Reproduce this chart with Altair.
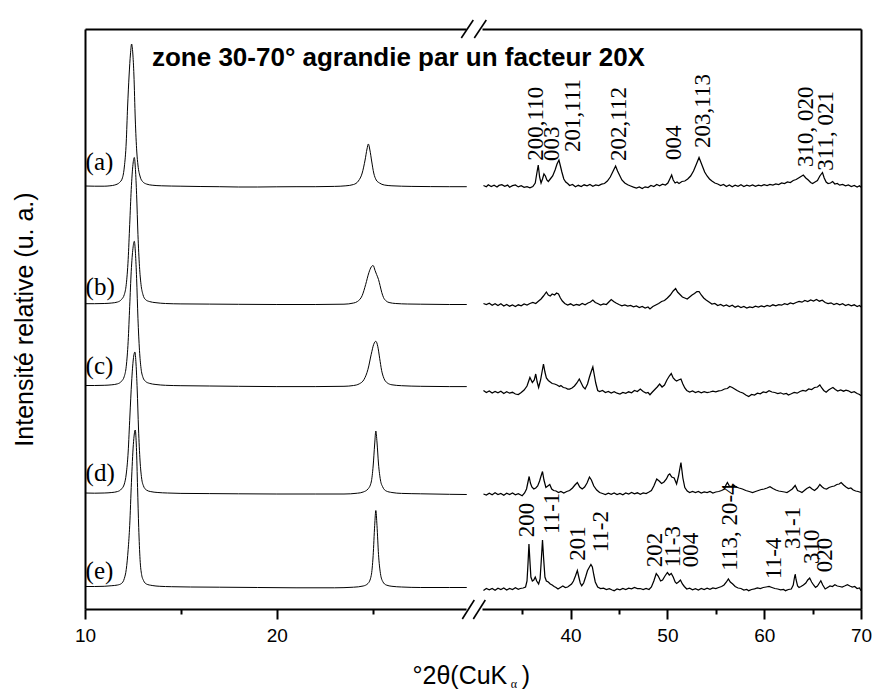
import altair as alt
import pandas as pd

# ------------------------------------------------------------------ data
samples = ["(a)", "(b)", "(c)", "(d)", "(e)"]

# vertical offsets of each pattern (arbitrary units) in the two zones
left_baseline = [422.0, 304.5, 222.7, 115.0, 21.5]
right_baseline = [423.0, 305.0, 217.0, 115.0, 20.0]

# zone 10-30° : (2theta, relative intensity)
left_a = [(10.0, 1.0), (10.5, 0.8), (11.0, 0.8), (11.3, 1.2), (11.55, 2), (11.8, 4.5), (11.95, 9),
          (12.05, 20), (12.15, 45), (12.22, 80), (12.3, 112), (12.37, 133), (12.43, 143), (12.49, 134),
          (12.55, 112), (12.62, 68), (12.7, 35), (12.76, 22), (12.88, 10), (13.0, 5.5), (13.2, 3),
          (13.5, 1.8), (14.0, 1.2), (15.0, 0.8), (16.0, 0.5), (17.0, 0.3), (18.0, 0), (19.0, 0),
          (20.0, 0.2), (21.0, 0.3), (22.0, 0.3), (23.0, 0.6), (23.6, 1.2), (24.0, 2.5), (24.25, 6),
          (24.45, 14), (24.6, 27), (24.7, 38), (24.77, 43), (24.85, 37), (24.95, 25), (25.05, 14),
          (25.18, 7), (25.35, 4), (25.6, 2), (26.0, 1.2), (27.0, 0.6), (28.0, 0.4), (29.0, 0.3),
          (29.9, 0.3)]
left_b = [(10.0, 0.8), (10.5, 0.8), (11.0, 1.0), (11.4, 1.5), (11.7, 2.5), (11.9, 5), (12.05, 10),
          (12.15, 20), (12.25, 45), (12.33, 80), (12.41, 115), (12.5, 140), (12.57, 147), (12.63, 135),
          (12.69, 110), (12.76, 70), (12.84, 38), (12.92, 20), (13.02, 10), (13.15, 5), (13.35, 3),
          (13.7, 1.8), (14.2, 1.0), (15.0, 0.6), (16.5, 0.4), (18.0, 0.2), (20.0, 0), (22.0, 0),
          (23.5, 0.3), (24.0, 1.5), (24.2, 3), (24.45, 9), (24.63, 20), (24.8, 32), (24.92, 37.5),
          (25.02, 39), (25.12, 34), (25.2, 30), (25.3, 25), (25.38, 19), (25.47, 12), (25.56, 7),
          (25.7, 3.5), (25.85, 2), (26.2, 1), (26.8, 0.5), (27.5, 0.3), (29.0, 0), (29.9, 0)]
left_c = [(10.0, 0.8), (10.5, 0.8), (11.0, 1.0), (11.4, 1.5), (11.7, 2.5), (11.9, 5), (12.05, 10),
          (12.15, 20), (12.25, 45), (12.33, 80), (12.41, 115), (12.5, 138), (12.57, 145), (12.63, 133),
          (12.69, 108), (12.76, 68), (12.84, 36), (12.92, 18), (13.02, 9), (13.15, 5), (13.35, 3),
          (13.7, 1.8), (14.2, 1.0), (15.0, 0.6), (16.5, 0.3), (18.0, 0), (20.0, -0.3), (22.0, -0.3),
          (23.5, 0), (24.0, 0.8), (24.3, 2.5), (24.55, 7), (24.75, 17), (24.92, 32), (25.05, 42),
          (25.16, 45), (25.26, 40), (25.36, 28), (25.46, 16), (25.58, 8), (25.75, 3.5), (26.0, 1.5),
          (26.5, 0.6), (27.5, 0), (29.0, -0.3), (29.9, -0.3)]
left_d = [(10.0, 1.0), (10.5, 0.8), (11.0, 1.0), (11.4, 1.5), (11.7, 2.5), (11.9, 5), (12.05, 10),
          (12.15, 20), (12.25, 42), (12.34, 78), (12.43, 112), (12.52, 135), (12.6, 142), (12.66, 130),
          (12.72, 105), (12.79, 65), (12.87, 33), (12.95, 16), (13.05, 8), (13.2, 4), (13.4, 2.5),
          (13.8, 1.5), (14.3, 1.0), (15.0, 0.6), (16.5, 0.4), (18.0, 0.2), (20.0, 0), (22.0, 0),
          (23.5, 0), (24.2, 0.8), (24.5, 2), (24.75, 5), (24.92, 12), (25.02, 28), (25.1, 50),
          (25.16, 63), (25.22, 52), (25.3, 30), (25.4, 14), (25.52, 7), (25.7, 3), (26.0, 1.5),
          (26.5, 0.6), (27.5, 0.2), (29.0, -0.3), (29.9, -0.5)]
left_e = [(10.0, 1.0), (10.5, 1.0), (11.0, 1.2), (11.4, 1.8), (11.7, 2.5), (11.9, 4), (12.05, 9),
          (12.15, 18), (12.25, 38), (12.33, 62), (12.42, 105), (12.52, 143), (12.62, 157.5), (12.68, 140),
          (12.74, 100), (12.8, 60), (12.87, 28), (12.95, 13), (13.05, 7), (13.2, 3.5), (13.5, 2),
          (13.9, 1.2), (14.5, 0.8), (15.5, 0.5), (17.0, 0.3), (19.0, 0), (21.0, -0.3), (23.0, -0.3),
          (24.0, 0.3), (24.5, 1.5), (24.75, 4), (24.92, 12), (25.02, 32), (25.1, 62), (25.16, 77),
          (25.22, 62), (25.3, 33), (25.4, 14), (25.52, 6), (25.7, 2.5), (26.0, 1.2), (26.5, 0.5),
          (27.5, 0), (29.0, 0), (29.9, 0)]

# zone 30-70° (x20) : (2theta, relative intensity)
right_a = [(31.0, 0.5), (31.3, -0.8), (31.5, 1.2), (31.8, -0.5), (32.1, 0.8), (32.4, -1.0), (32.6, 0.6),
           (32.9, 1.4), (33.2, -0.4), (33.5, 0.9), (33.7, -1.2), (34.0, 0.3), (34.3, 1.1), (34.6, -0.9),
           (34.9, 0.4), (35.2, -1.3), (35.5, -0.6), (35.8, -1.8), (36.1, -0.5), (36.35, 3), (36.5, 12),
           (36.66, 21), (36.8, 9), (36.95, 3), (37.1, 7), (37.25, 12), (37.4, 10), (37.55, 6), (37.7, 4.5),
           (37.9, 7), (38.15, 10), (38.4, 16), (38.6, 22), (38.8, 26), (38.95, 20), (39.1, 14), (39.3, 7),
           (39.5, 4), (39.7, 2.5), (39.9, 0.5), (40.2, 1.5), (40.5, -0.8), (40.8, 0.7), (41.1, -0.5),
           (41.4, 1.2), (41.7, 0.2), (42.0, 1.5), (42.3, -0.3), (42.6, 1.0), (42.9, 0.5), (43.2, 1.8),
           (43.5, 2.5), (43.8, 5), (44.1, 9), (44.4, 15), (44.65, 20), (44.85, 15), (45.05, 11), (45.3, 6),
           (45.6, 3), (45.9, 1.2), (46.2, 0), (46.5, -1.2), (46.8, -2), (47.1, -1), (47.4, -2.5),
           (47.7, -0.8), (48.0, -1.5), (48.3, 0.5), (48.6, -0.5), (48.9, 1.5), (49.2, 0.2), (49.5, 1.8),
           (49.8, 1.0), (50.05, 3), (50.25, 7), (50.44, 11), (50.6, 6), (50.8, 3), (51.0, 4), (51.2, 2.5),
           (51.5, 4.5), (51.8, 5), (52.1, 7), (52.4, 10), (52.7, 15), (53.0, 22), (53.27, 28.5),
           (53.45, 24), (53.65, 19), (53.85, 14), (54.1, 10), (54.35, 7), (54.6, 5), (54.9, 3), (55.2, 2),
           (55.5, 0.5), (55.8, 1.5), (56.1, -0.5), (56.4, 1), (56.7, -0.8), (57.0, 0.8), (57.3, -0.3),
           (57.6, 1.2), (57.9, -0.5), (58.2, 0.9), (58.5, 0.0), (58.8, 1.1), (59.1, -0.4), (59.4, 0.8),
           (59.7, 0.2), (60.0, 1.3), (60.3, 0.5), (60.6, 1.5), (60.9, 1.0), (61.2, 2.0), (61.5, 1.5),
           (61.8, 3), (62.1, 2.5), (62.4, 4), (62.7, 3.5), (63.0, 5.5), (63.3, 6.5), (63.55, 8),
           (63.8, 9.5), (64.04, 11), (64.3, 8), (64.55, 6), (64.8, 3.5), (65.0, 2.5), (65.25, 4),
           (65.5, 5.5), (65.75, 10), (66.02, 13.5), (66.2, 8), (66.4, 4), (66.6, 2.5), (66.85, 3),
           (67.07, 4.5), (67.3, 2), (67.55, 2.5), (67.8, 0.8), (68.1, 1.5), (68.4, 0.2), (68.7, 1.0),
           (69.0, -0.5), (69.3, 0.5), (69.6, -1.0), (69.85, 0.3), (70.0, -1.2)]
right_b = [(31.0, 0.5), (31.3, -0.5), (31.6, 0.8), (31.9, -1.2), (32.2, 0.3), (32.5, -1.5), (32.8, 0.2),
           (33.1, -2), (33.4, -0.5), (33.7, -2.2), (34.0, -1.0), (34.3, -2.5), (34.6, -0.8), (34.9, -1.8),
           (35.2, 0), (35.5, -1.0), (35.8, 0.5), (36.1, 1.5), (36.4, 0.5), (36.7, 3), (36.95, 5),
           (37.2, 8), (37.5, 12), (37.7, 9), (37.9, 8), (38.1, 10), (38.35, 9), (38.55, 11), (38.75, 10),
           (38.95, 6), (39.15, 3), (39.4, 0.5), (39.7, -1), (40.0, 0.2), (40.3, -1.5), (40.6, -0.3),
           (40.9, -1.2), (41.2, 0.5), (41.5, -0.8), (41.8, 1.0), (42.05, 2), (42.3, 4), (42.55, 1.5),
           (42.8, 0.5), (43.1, -1), (43.4, 0.2), (43.7, -0.5), (43.95, 2), (44.2, 4.5), (44.45, 2.5),
           (44.7, 1), (45.0, -0.5), (45.3, -1.8), (45.6, -1.0), (45.9, -2.2), (46.2, -1.5), (46.5, -2.8),
           (46.8, -2.0), (47.1, -3.5), (47.4, -2.5), (47.7, -4), (48.0, -3), (48.2, -5), (48.5, -2.5),
           (48.8, -1), (49.1, 0.5), (49.4, 2.5), (49.7, 3.5), (50.0, 6), (50.3, 9), (50.6, 13),
           (50.85, 15.5), (51.05, 12), (51.3, 9.5), (51.55, 7), (51.8, 6), (52.05, 5), (52.3, 7),
           (52.55, 9), (52.8, 10.5), (53.05, 12.5), (53.27, 12.5), (53.5, 9), (53.75, 6), (54.0, 4),
           (54.3, 2), (54.6, 0), (54.9, 0.5), (55.2, -1.5), (55.5, -0.5), (55.8, -2), (56.1, -1),
           (56.4, -2.5), (56.7, -1.2), (57.0, -3.2), (57.3, -2.0), (57.6, -3.5), (57.9, -2.5), (58.2, -4),
           (58.5, -2.8), (58.8, -3.6), (59.1, -2.2), (59.4, -3.0), (59.7, -1.8), (60.0, -2.8),
           (60.3, -1.5), (60.6, -2.4), (60.9, -0.8), (61.2, -1.9), (61.5, -0.6), (61.8, -1.2), (62.1, 0.3),
           (62.4, -0.5), (62.7, 1.0), (63.0, 0.2), (63.3, 1.5), (63.6, 2.5), (63.9, 1.8), (64.2, 3.5),
           (64.5, 2.5), (64.8, 4), (65.1, 3), (65.4, 4.5), (65.7, 2.8), (66.0, 3.8), (66.3, 1.5),
           (66.6, 0.5), (66.9, 1.2), (67.2, -0.5), (67.5, 0.6), (67.8, -0.8), (68.1, 0.3), (68.4, -1.5),
           (68.7, -0.4), (69.0, -1.8), (69.3, -0.8), (69.6, -2.5), (69.85, -1.5), (70.0, -3)]
right_c = [(31.0, 1.5), (31.3, -0.5), (31.6, 1.0), (31.9, -1.0), (32.2, 0.5), (32.5, -0.8), (32.8, 0.8),
           (33.1, -1.5), (33.4, 0.2), (33.7, -1.2), (34.0, -0.3), (34.3, -2.0), (34.6, -2.5), (34.9, -0.5),
           (35.2, 2), (35.5, 6), (35.8, 14.5), (36.05, 9.5), (36.25, 12), (36.4, 18), (36.55, 10),
           (36.7, 4.5), (36.9, 12), (37.05, 20), (37.2, 28), (37.35, 20), (37.5, 14), (37.7, 11.5),
           (37.9, 10), (38.1, 8.5), (38.35, 8), (38.6, 7), (38.85, 5.5), (39.0, 6.5), (39.25, 4.5),
           (39.5, 4), (39.7, 3), (39.9, 3), (40.15, 4), (40.4, 6), (40.65, 9), (40.9, 13), (41.1, 9),
           (41.3, 5), (41.5, 3), (41.75, 8), (41.95, 15), (42.15, 21), (42.3, 25), (42.45, 17), (42.6, 9),
           (42.8, 1.5), (43.0, 0.5), (43.3, 1.5), (43.6, -0.5), (43.9, 0.5), (44.2, -1.0), (44.5, 0.3),
           (44.8, -1.2), (45.1, -2), (45.4, -0.5), (45.7, -1.3), (46.0, 0.2), (46.3, -0.8), (46.6, 1.5),
           (46.9, 0.5), (47.2, 3), (47.5, 0.5), (47.8, -1), (48.0, -0.5), (48.2, -2.7), (48.45, 0),
           (48.7, 2.5), (48.95, 5), (49.2, 8), (49.45, 5), (49.7, 7), (49.95, 12), (50.2, 16), (50.4, 18.5),
           (50.6, 14), (50.8, 12), (50.95, 11), (51.15, 12), (51.4, 13), (51.6, 8), (51.8, 4), (52.0, 1.5),
           (52.3, 0), (52.6, 1), (52.9, -0.5), (53.2, 0.5), (53.5, -0.8), (53.8, 0.3), (54.1, -0.5),
           (54.4, 0), (54.7, 0.8), (55.0, 0.2), (55.3, 1.2), (55.6, 1.5), (55.9, 3), (56.2, 3.5),
           (56.45, 5.5), (56.7, 4.5), (56.95, 3), (57.2, 1.5), (57.5, 0), (57.8, -1), (58.1, -3),
           (58.4, -4.5), (58.7, -2.5), (59.0, -3), (59.3, -1.2), (59.6, -1.8), (59.9, 0), (60.2, -0.5),
           (60.5, 1.3), (60.8, 0), (61.1, -0.5), (61.4, -1.5), (61.7, -0.8), (62.0, -2.2), (62.3, -1.5),
           (62.5, -3), (62.8, -1.8), (63.1, -0.5), (63.4, -1.2), (63.7, 0.5), (64.0, 1.5), (64.3, 1.0),
           (64.6, 3), (64.9, 2.5), (65.2, 4.5), (65.5, 5), (65.75, 7), (65.95, 4), (66.15, 1.5),
           (66.4, -0.3), (66.65, 2), (66.9, 3.5), (67.1, 4.5), (67.35, 2.5), (67.6, 1), (67.9, 2),
           (68.2, 0.8), (68.45, 1.8), (68.7, 1.2), (69.0, -0.5), (69.3, 0.3), (69.6, -1.5), (69.85, -2.5),
           (70.0, -3.7)]
right_d = [(31.0, 0), (31.3, -1.0), (31.6, 0.8), (31.9, -0.8), (32.2, 1.2), (32.5, -0.5), (32.8, 0.5),
           (33.1, -1.2), (33.4, 0.8), (33.7, -0.5), (34.0, 1.0), (34.3, -0.8), (34.6, 0.3), (35.0, -1.7),
           (35.25, 1), (35.45, 5), (35.6, 12), (35.72, 17.5), (35.85, 11), (36.0, 7), (36.2, 5), (36.4, 6),
           (36.6, 8), (36.8, 13), (36.95, 18), (37.1, 22.5), (37.25, 14), (37.45, 6.5), (37.65, 8),
           (37.85, 9.5), (38.05, 5), (38.25, 3.5), (38.5, 3), (38.75, 1.5), (39.0, 2.5), (39.3, 1),
           (39.6, 2.5), (39.9, 3.5), (40.2, 6), (40.45, 9), (40.7, 11.5), (40.95, 7), (41.2, 5), (41.45, 7),
           (41.7, 11), (41.95, 17), (42.15, 14), (42.4, 8), (42.7, 4), (43.0, 1.5), (43.3, 0.5),
           (43.6, -0.5), (43.9, 0.8), (44.2, -0.3), (44.5, 1.0), (44.8, -0.5), (45.1, 0.6), (45.4, -0.8),
           (45.7, 1.0), (46.0, 0), (46.3, 1.5), (46.6, 0.2), (46.9, 1.2), (47.2, -0.3), (47.5, 1.0),
           (47.8, 0.5), (48.1, 2), (48.35, 3.5), (48.6, 8), (48.9, 15), (49.15, 13), (49.4, 10.5),
           (49.65, 12), (49.9, 15), (50.1, 19), (50.25, 20), (50.45, 17), (50.7, 16), (50.95, 10),
           (51.15, 18), (51.4, 31.5), (51.6, 16), (51.8, 6.5), (52.05, 3), (52.3, 1.5), (52.6, 2.5),
           (52.9, 1.5), (53.2, 2.5), (53.5, 1), (53.8, 2), (54.1, 1.5), (54.4, 2.5), (54.7, 1), (55.0, 2),
           (55.3, 2.5), (55.6, 3.5), (55.9, 5), (56.05, 9), (56.2, 11.5), (56.4, 8), (56.6, 7.5),
           (56.85, 9), (57.1, 7), (57.4, 6), (57.75, 5), (58.1, 3.5), (58.45, 2.5), (58.8, 1.5), (59.1, 2.5),
           (59.4, 3.5), (59.7, 4.5), (60.0, 5), (60.3, 6), (60.6, 7.3), (60.9, 5.5), (61.2, 4), (61.5, 3),
           (61.8, 2.5), (62.1, 2), (62.35, 1.5), (62.6, 3), (62.9, 5), (63.2, 8.5), (63.45, 3.5),
           (63.7, 2.5), (63.9, 1.5), (64.15, 3.5), (64.4, 5.5), (64.7, 7), (64.95, 5), (65.2, 3.5),
           (65.5, 6), (65.75, 9.5), (66.0, 7), (66.2, 5.5), (66.45, 5), (66.7, 6.5), (67.0, 7.5),
           (67.25, 8), (67.5, 9.5), (67.75, 10), (67.95, 11.5), (68.2, 9), (68.45, 7), (68.7, 5.5),
           (68.95, 6), (69.2, 4), (69.45, 3), (69.7, 2.5), (70.0, 1.5)]
right_e = [(31.0, -1.5), (31.3, 0.5), (31.6, -0.8), (31.9, 0.6), (32.2, -1.2), (32.5, 0.8), (32.8, -0.5),
           (33.1, 1.0), (33.4, -1.0), (33.7, 0.5), (34.0, -0.6), (34.3, 1.2), (34.6, -0.3), (34.8, 0.5),
           (35.1, 1.0), (35.35, 2), (35.5, 8), (35.6, 25), (35.7, 45), (35.8, 28), (35.9, 12), (36.05, 8),
           (36.2, 9), (36.35, 12), (36.5, 8), (36.7, 5), (36.85, 10), (36.97, 28), (37.1, 49), (37.22, 30),
           (37.35, 12), (37.5, 8), (37.7, 7), (37.9, 5), (38.1, 4), (38.3, 2.5), (38.5, 1.5), (38.7, 0),
           (38.95, 1.5), (39.2, 3), (39.45, 1.5), (39.7, 2), (39.9, 3.5), (40.1, 5), (40.3, 8), (40.5, 13),
           (40.7, 18.5), (40.85, 12), (41.0, 6), (41.15, 3.3), (41.35, 6), (41.55, 12), (41.75, 18.5),
           (41.95, 22), (42.1, 24.5), (42.25, 22), (42.4, 14), (42.55, 7), (42.8, 2), (43.1, 0.5),
           (43.4, 0.8), (43.7, -0.5), (44.0, 0.3), (44.3, -1.0), (44.5, -1.7), (44.8, 0.0), (45.1, -0.8),
           (45.4, 0.5), (45.7, -0.6), (46.0, 0.8), (46.3, 0.2), (46.6, 1.5), (46.9, 0.5), (47.2, 0.5),
           (47.5, -0.5), (47.8, 0.5), (48.1, -0.5), (48.35, 2), (48.6, 8), (48.85, 15.5), (49.05, 13),
           (49.3, 8), (49.5, 9), (49.75, 13), (50.0, 16.5), (50.2, 14), (50.4, 15.5), (50.6, 12), (50.8, 7),
           (50.95, 5.5), (51.15, 7), (51.35, 9), (51.55, 5), (51.75, 2.5), (52.0, 0), (52.3, 0.8),
           (52.6, -0.8), (52.9, 0.3), (53.2, -1.0), (53.5, 0.5), (53.8, -0.5), (54.1, 0.8), (54.4, -0.3),
           (54.7, 1.0), (55.0, 0.5), (55.3, 1.5), (55.6, 2.5), (55.85, 4), (56.1, 7), (56.3, 10), (56.5, 7),
           (56.75, 5), (57.0, 2.5), (57.3, 1), (57.6, 0.5), (57.9, -1), (58.2, -0.5), (58.4, -1.7),
           (58.7, -0.5), (59.0, 0.2), (59.3, 1), (59.6, 0.5), (59.9, 1.5), (60.2, 2), (60.5, 2.5),
           (60.8, 1.5), (61.1, 0.5), (61.4, 0), (61.7, -0.8), (62.0, -0.5), (62.2, -1.7), (62.5, -0.5),
           (62.8, 0), (63.0, 4), (63.1, 10), (63.2, 15), (63.3, 9), (63.45, 3), (63.6, 1.5), (63.8, 2.5),
           (64.05, 4), (64.3, 6), (64.5, 9), (64.7, 11), (64.9, 7), (65.1, 4), (65.3, 1.7), (65.5, 3),
           (65.7, 6), (65.85, 8.3), (66.05, 4), (66.3, 0), (66.55, 1.5), (66.8, 3), (67.05, 2.5),
           (67.3, 4.3), (67.55, 3), (67.8, 2.5), (68.05, 2), (68.3, 3), (68.6, 4.3), (68.85, 3), (69.1, 2),
           (69.35, 2.5), (69.6, 0.5), (69.85, 1), (70.0, -1.7)]

# sample labels
label_theta = [10.03, 10.03, 10.03, 10.03, 10.03]
label_level = [447, 322, 243, 136, 38]

# peak indexation (a) and (e)
peaks_a = ["200,110", "003", "201,111", "202,112", "004", "203,113", "310, 020", "311, 021"]
peaks_a_theta = [36.39, 38.09, 40.23, 45.0, 50.67, 53.73, 64.29, 66.43]
peaks_a_level = [448.3, 448, 457, 448, 449, 461, 442, 438.3]
peaks_e = ["200", "11-1", "201", "11-2", "202", "11-3", "004", "113, 20-4", "11-4", "31-1", "310", "020"]
peaks_e_theta = [35.47, 38.12, 40.74, 43.12, 48.67, 50.54, 52.48, 56.46, 60.98, 63.02, 64.9, 66.26]
peaks_e_level = [71.7, 75, 48.3, 56.7, 41.7, 41.7, 41.7, 38.3, 30, 60, 45, 36.7]

zone_title = "zone 30-70° agrandie par un facteur 20X"
zone_theta = [13.49]
zone_level = [543]

# ------------------------------------------------------------------ frames
def build(traces, baselines):
    rows = []
    for name, pts, base in zip(samples, traces, baselines):
        for t, v in pts:
            rows.append({"sample": name, "theta": t, "intensity": base + v})
    return pd.DataFrame(rows)

left_df = build([left_a, left_b, left_c, left_d, left_e], left_baseline)
right_df = build([right_a, right_b, right_c, right_d, right_e], right_baseline)
labels_df = pd.DataFrame({"sample": samples, "theta": label_theta, "intensity": label_level})
ann_a_df = pd.DataFrame({"label": peaks_a, "theta": peaks_a_theta, "intensity": peaks_a_level})
ann_e_df = pd.DataFrame({"label": peaks_e, "theta": peaks_e_theta, "intensity": peaks_e_level})
zone_df = pd.DataFrame({"text": [zone_title], "theta": zone_theta, "intensity": zone_level})
blank = alt.Data(values=[{}])

SANS = "Liberation Sans"
SERIF = "Liberation Serif"

left_x = alt.Scale(domain=[10, 29.86], nice=False, zero=False)
right_x = alt.Scale(domain=[30.85, 70], nice=False, zero=False)
y_scale = alt.Scale(domain=[0, 580], nice=False, zero=False)

left_y_axis = alt.Axis(orient="left", title="Intensité relative (u. a.)", ticks=False, labels=False,
                       grid=False, domainWidth=2, titleFont=SANS, titleFontSize=25,
                       titleFontWeight="normal", titlePadding=48, titleColor="black")
right_y_axis = alt.Axis(orient="right", title=None, ticks=False, labels=False, grid=False, domainWidth=2)


def major_axis(vals):
    return alt.Axis(orient="bottom", values=vals, tickSize=10, tickWidth=2, domainWidth=2,
                    labelFont=SANS, labelFontSize=19, labelPadding=7, labelColor="black",
                    labelFlush=False, labelOverlap=False, grid=False, title=None)


def minor_axis(vals):
    return alt.Axis(orient="bottom", values=vals, tickSize=5, tickWidth=2, domain=False,
                    labels=False, grid=False, title=None)


top_axis = alt.Axis(orient="top", ticks=False, labels=False, domainWidth=2, grid=False, title=None)


def slash(x1, y1, x2, y2):
    return alt.Chart(blank).mark_rule(color="black", strokeWidth=1.6).encode(
        x=alt.value(x1), y=alt.value(y1), x2=alt.value(x2), y2=alt.value(y2))


# ------------------------------------------------------------------ left zone
left_lines = alt.Chart(left_df).mark_line(color="black", strokeWidth=1, interpolate="monotone").encode(
    x=alt.X("theta:Q", scale=left_x, axis=major_axis([10, 20])),
    y=alt.Y("intensity:Q", scale=y_scale, axis=left_y_axis),
    detail="sample:N",
)
left_labels = alt.Chart(labels_df).mark_text(font=SERIF, fontSize=25, align="left", baseline="middle",
                                             color="black").encode(
    x=alt.X("theta:Q", scale=left_x, axis=minor_axis([15, 25])),
    y=alt.Y("intensity:Q", scale=y_scale, axis=left_y_axis),
    text="sample:N",
)
zone_text = alt.Chart(zone_df).mark_text(font=SANS, fontWeight="bold", fontSize=26, align="left",
                                         baseline="alphabetic", color="black").encode(
    x=alt.X("theta:Q", scale=left_x, axis=top_axis),
    y=alt.Y("intensity:Q", scale=y_scale, axis=left_y_axis),
    text="text:N",
)
xt_main = alt.Chart(blank).mark_text(text="°2θ(CuK", font=SANS, fontSize=25, align="right",
                                     baseline="alphabetic", color="black").encode(
    x=alt.value(422.3), y=alt.value(655))
xt_sub = alt.Chart(blank).mark_text(text="α", font=SERIF, fontSize=12, align="left",
                                    baseline="alphabetic", color="black").encode(
    x=alt.value(425.8), y=alt.value(659))
xt_end = alt.Chart(blank).mark_text(text=")", font=SANS, fontSize=25, align="left",
                                    baseline="alphabetic", color="black").encode(
    x=alt.value(436.8), y=alt.value(655))

left = alt.layer(
    left_lines, left_labels, zone_text, xt_main, xt_sub, xt_end,
    slash(376.3, 9, 388.3, -9), slash(389.3, 9, 401.3, -9),
    slash(377.3, 590, 389.3, 571), slash(388.3, 590, 400.3, 571),
).resolve_axis(x="independent").properties(width=381, height=580)

# ------------------------------------------------------------------ right zone
right_lines = alt.Chart(right_df).mark_line(color="black", strokeWidth=1.25).encode(
    x=alt.X("theta:Q", scale=right_x, axis=major_axis([40, 50, 60, 70])),
    y=alt.Y("intensity:Q", scale=y_scale, axis=right_y_axis),
    detail="sample:N",
)
ann_a = alt.Chart(ann_a_df).mark_text(font=SERIF, fontSize=23, angle=270, align="left",
                                      baseline="middle", color="black").encode(
    x=alt.X("theta:Q", scale=right_x, axis=top_axis),
    y=alt.Y("intensity:Q", scale=y_scale, axis=right_y_axis),
    text="label:N",
)
ann_e = alt.Chart(ann_e_df).mark_text(font=SERIF, fontSize=23, angle=270, align="left",
                                      baseline="middle", color="black").encode(
    x=alt.X("theta:Q", scale=right_x, axis=minor_axis([35, 45, 55, 65])),
    y=alt.Y("intensity:Q", scale=y_scale, axis=right_y_axis),
    text="label:N",
)
right = alt.layer(right_lines, ann_a, ann_e).resolve_axis(x="independent").properties(width=379, height=580)

chart = alt.hconcat(left, right, spacing=16, bounds="flush").properties(
    padding={"left": 4, "top": 11, "right": 0, "bottom": 0}
).configure_view(stroke=None).configure_axis(
    domainColor="black", tickColor="black", labelColor="black", titleColor="black"
)

chart.save("out.html", embed_options={"renderer": "svg", "actions": False})
